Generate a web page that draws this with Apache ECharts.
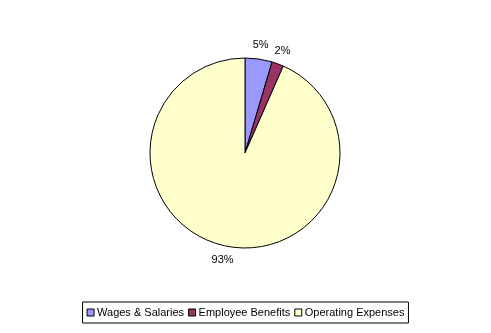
<!DOCTYPE html>
<html>
<head>
<meta charset="utf-8">
<script src="https://cdn.jsdelivr.net/npm/echarts@6/dist/echarts.min.js"></script>
<style>
  html, body { margin: 0; padding: 0; background: #fff; }
  #chart { width: 491px; height: 333px; }
</style>
</head>
<body>
<div id="chart"></div>
<script>
// Spending breakdown by category (percent of total)
const categories = ['Wages & Salaries', 'Employee Benefits', 'Operating Expenses'];
const shares = [4.6, 2.0, 93.4];
const colors = ['#9999FF', '#993366', '#FFFFCC'];

const chart = echarts.init(document.getElementById('chart'), null, { renderer: 'canvas' });

const font = 'Liberation Sans, Arial, sans-serif';
const pieData = categories.map((name, i) => ({ name, value: shares[i] }));
const center = [245, 153];

chart.setOption({
  animation: false,
  color: colors,
  legend: {
    data: categories,
    left: 'center',
    top: 302,
    orient: 'horizontal',
    icon: 'rect',
    itemWidth: 7,
    itemHeight: 7,
    itemGap: 4,
    padding: [5, 4, 5, 4],
    borderColor: '#000',
    borderWidth: 1,
    itemStyle: { borderColor: '#000', borderWidth: 1 },
    textStyle: { fontFamily: font, fontSize: 11, color: '#000', padding: [0, 0, 0, -2] }
  },
  series: [
    {
      // the pie itself
      type: 'pie',
      center: center,
      radius: 95,
      startAngle: 90,
      clockwise: true,
      data: pieData,
      itemStyle: { borderColor: '#000', borderWidth: 1 },
      emphasis: { disabled: true },
      label: { show: false },
      labelLine: { show: false }
    },
    {
      // percentage labels, centred on a ring just outside the pie
      type: 'pie',
      center: center,
      radius: [0, 212],
      startAngle: 90,
      clockwise: true,
      silent: true,
      data: pieData,
      itemStyle: { color: 'transparent', borderWidth: 0 },
      emphasis: { disabled: true },
      label: {
        show: true,
        position: 'inside',
        formatter: p => Math.round(p.percent) + '%',
        fontFamily: font,
        fontSize: 11,
        color: '#000'
      },
      labelLine: { show: false }
    }
  ]
});
</script>
</body>
</html>
